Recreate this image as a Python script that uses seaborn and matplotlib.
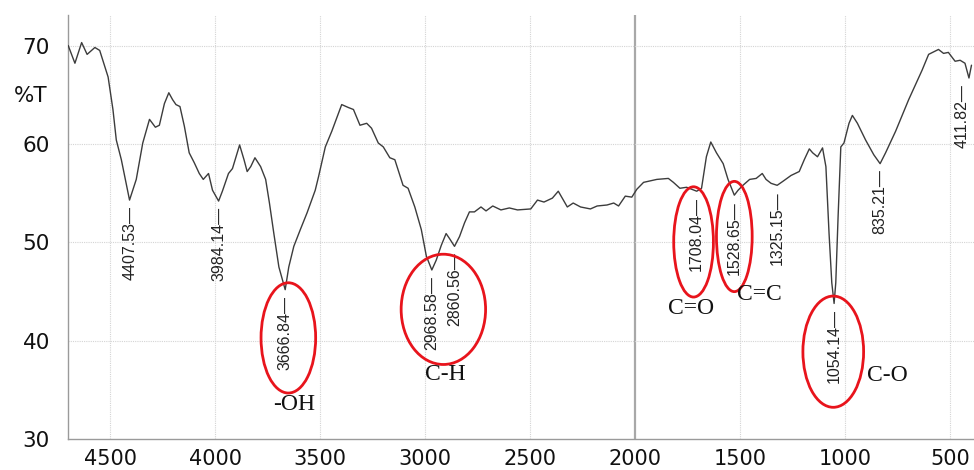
import matplotlib
matplotlib.use("Agg")
import matplotlib.pyplot as plt
from matplotlib.patches import Ellipse
from matplotlib.ticker import MultipleLocator
import numpy as np
import pandas as pd
import seaborn as sns

# FTIR spectrum: wavenumber (cm-1) vs transmittance (%T)
wavenumber = [4700, 4668, 4636, 4610, 4573, 4550, 4510, 4487, 4471, 4447,
              4408, 4376, 4345, 4313, 4285, 4266, 4242, 4221, 4203, 4187,
              4168, 4147, 4124, 4100, 4076, 4057, 4032, 4013, 3984, 3966,
              3937, 3918, 3884, 3863, 3848, 3831, 3811, 3784, 3760, 3742,
              3721, 3697, 3667, 3650, 3626, 3595, 3563, 3524, 3508, 3476,
              3445, 3398, 3366, 3342, 3311, 3279, 3256, 3224, 3200, 3169,
              3145, 3106, 3082, 3050, 3019, 2995, 2969, 2948, 2924, 2901,
              2885, 2861, 2837, 2813, 2790, 2766, 2735, 2711, 2679, 2640,
              2600, 2561, 2498, 2466, 2435, 2395, 2367, 2348, 2324, 2296,
              2261, 2214, 2182, 2135, 2103, 2080, 2048, 2017, 1993, 1961,
              1898, 1843, 1819, 1788, 1756, 1708, 1685, 1662, 1641, 1614,
              1582, 1559, 1529, 1511, 1488, 1456, 1425, 1396, 1378, 1354,
              1325, 1298, 1259, 1220, 1196, 1172, 1156, 1133, 1109, 1093,
              1078, 1065, 1054, 1046, 1035, 1022, 1007, 983, 967, 943,
              904, 865, 835, 809, 761, 699, 635, 604, 557, 533,
              510, 478, 454, 431, 412, 400]
transmittance = [70.0, 68.2, 70.3, 69.1, 69.8, 69.5, 66.8, 63.5, 60.4, 58.4,
                 54.3, 56.4, 60.1, 62.5, 61.7, 61.9, 64.1, 65.2, 64.5, 64.0,
                 63.8, 61.8, 59.1, 58.1, 57.0, 56.4, 57.0, 55.3, 54.2, 55.2,
                 57.0, 57.5, 59.9, 58.4, 57.2, 57.7, 58.6, 57.7, 56.4, 54.0,
                 50.9, 47.5, 45.2, 47.5, 49.6, 51.3, 53.0, 55.3, 56.7, 59.7,
                 61.3, 64.0, 63.7, 63.5, 61.9, 62.1, 61.6, 60.1, 59.7, 58.6,
                 58.4, 55.8, 55.5, 53.6, 51.3, 48.6, 47.2, 48.2, 49.7, 50.9,
                 50.4, 49.6, 50.6, 52.0, 53.1, 53.1, 53.6, 53.2, 53.7, 53.3,
                 53.5, 53.3, 53.4, 54.3, 54.1, 54.5, 55.2, 54.5, 53.6, 54.0,
                 53.6, 53.4, 53.7, 53.8, 54.0, 53.7, 54.7, 54.6, 55.4, 56.1,
                 56.4, 56.5, 56.1, 55.5, 55.6, 55.2, 55.5, 58.7, 60.2, 59.1,
                 58.0, 56.4, 54.8, 55.3, 55.8, 56.4, 56.5, 57.0, 56.4, 56.0,
                 55.8, 56.2, 56.8, 57.2, 58.4, 59.5, 59.1, 58.7, 59.6, 57.7,
                 50.9, 45.9, 43.8, 45.9, 52.6, 59.7, 60.1, 62.1, 62.9, 62.1,
                 60.4, 58.9, 58.0, 59.1, 61.3, 64.5, 67.5, 69.1, 69.6, 69.2,
                 69.3, 68.4, 68.5, 68.2, 66.7, 68.0]

# Picked peaks
peak_wn = [4407.53, 3984.14, 3666.84, 2968.58, 2860.56, 1708.04,
           1528.65, 1325.15, 1054.14, 835.21, 411.82]
peak_t = [54.3, 54.2, 45.2, 47.2, 49.6, 55.2, 54.8, 55.8, 43.8, 58.0, 66.7]

# Functional-group assignments (label, label centre, circled region)
group_names = ["-OH", "C-H", "C=O", "C=C", "C-O"]
group_label_wn = [3626, 2907, 1735, 1411, 800]
group_label_t = [33.5, 36.6, 43.3, 44.7, 36.5]
circle_wn = [3652, 2914, 1723, 1529, 1058]
circle_t = [40.3, 43.2, 50.05, 50.6, 38.9]
circle_w = [260, 402, 189, 170, 289]
circle_h = [11.2, 11.2, 11.2, 11.2, 11.3]

x_ticks = [4500, 4000, 3500, 3000, 2500, 2000, 1500, 1000, 500]
y_ticks = [30, 40, 50, 60, 70]

spectrum = pd.DataFrame({"wavenumber": wavenumber, "T": transmittance})

sns.set_style("white")
plt.rcParams["font.family"] = ["DejaVu Sans"]

fig = plt.figure(figsize=(9.74, 4.70), dpi=100)
ax = fig.add_axes([0.0698, 0.0653, 0.9302, 0.9028])

# grid
for xv in x_ticks:
    if xv == 2000:
        ax.axvline(xv, color="#a8a8a8", lw=1.6, zorder=1)
    else:
        ax.axvline(xv, color="#d4d4d4", lw=0.8, ls=(0, (1, 1)), zorder=1)
for yv in y_ticks[1:]:
    ax.axhline(yv, color="#d4d4d4", lw=0.8, ls=(0, (1, 1)), zorder=1)

sns.lineplot(data=spectrum, x="wavenumber", y="T", ax=ax, color="#3c3c3c",
             lw=1.0, estimator=None, sort=True, zorder=3)

ax.set_xlim(4701, 388)
ax.set_ylim(30, 73.1)
ax.set_xticks(x_ticks)
ax.set_yticks(y_ticks)
ax.xaxis.set_minor_locator(MultipleLocator(50))
ax.yaxis.set_minor_locator(MultipleLocator(1))
ax.set_xlabel("")
ax.set_ylabel("")

for side in ["top", "right"]:
    ax.spines[side].set_visible(False)
for side in ["left", "bottom"]:
    ax.spines[side].set_color("#9a9a9a")
    ax.spines[side].set_linewidth(1.0)

ax.tick_params(axis="both", which="major", direction="out", colors="#9a9a9a",
               labelcolor="#111111", labelsize=15.5, width=1.0)
ax.tick_params(axis="y", which="major", length=9, pad=4)
ax.tick_params(axis="x", which="major", length=6, pad=1, labelsize=15)
ax.tick_params(axis="both", which="minor", direction="out", colors="#9a9a9a",
               length=4.5, width=0.8)

fig.text(30.5 / 974, 1 - 95.5 / 470, "%T", fontsize=15.5, color="#111111",
         ha="center", va="center")

# peak labels (the one at the far right edge is nudged inward so it stays on the canvas)
for wn, t in zip(peak_wn, peak_t):
    dx = -5 if wn < 450 else 0
    ax.annotate(f"{wn:.2f}\u2014", xy=(wn, t - 0.6), xytext=(dx, 0),
                textcoords="offset points", rotation=90, ha="center", va="top",
                fontsize=11.5, family=["Liberation Sans", "DejaVu Sans"],
                color="#222222", zorder=4)

# group circles and names
for name, lx, ly, cx, cy, cw, ch in zip(group_names, group_label_wn, group_label_t,
                                        circle_wn, circle_t, circle_w, circle_h):
    ax.add_patch(Ellipse((cx, cy), cw, ch, fill=False, edgecolor="#e8141c",
                         lw=2.0, zorder=5))
    ax.text(lx, ly, name, ha="center", va="center", fontsize=17,
            family=["Liberation Serif", "DejaVu Serif"], color="#111111", zorder=5)

fig.savefig("out.png", dpi=100)
